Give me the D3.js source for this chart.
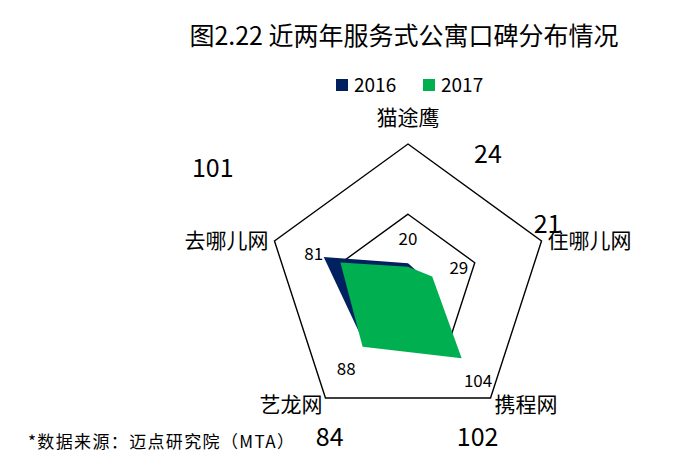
<!DOCTYPE html>
<html>
<head>
<meta charset="UTF-8" />
<title>服务式公寓口碑分布</title>
<script src="https://d3js.org/d3.v7.min.js"></script>
<style>
  body { margin: 0; background: #fff; }
  text { font-family: "Noto Sans CJK SC", "Noto Sans", sans-serif; fill: #000; }
</style>
</head>
<body>
<svg id="chart" width="693" height="476"></svg>
<script>
// data
var categories = ['猫途鹰', '住哪儿网', '携程网', '艺龙网', '去哪儿网'];
var years = ['2016', '2017'];
var values2016 = [24, 21, 102, 84, 101];
var values2017 = [20, 29, 104, 88, 81];
var gridLevels = [80, 160];

var colors = { '2016': '#002060', '2017': '#00b050' };

var svg = d3.select('#chart');
var cx = 408, cy = 284.4, R = 140.4;

var r = d3.scaleLinear().domain([0, 160]).range([0, R]);
var angle = d3.scaleLinear().domain([0, categories.length]).range([0, 2 * Math.PI]);

function pt(i, rad) {
  var a = angle(i);
  return [cx + rad * Math.sin(a), cy - rad * Math.cos(a)];
}

var g = svg.append('g').attr('transform', 'translate(' + cx + ',' + cy + ')');

var radial = d3.lineRadial()
  .angle(function (d, i) { return angle(i); })
  .radius(function (d) { return r(d); })
  .curve(d3.curveLinearClosed);

// grid pentagons
g.selectAll('.grid')
  .data(gridLevels)
  .enter()
  .append('path')
  .attr('d', function (lv) { return radial(categories.map(function () { return lv; })); })
  .attr('fill', 'none')
  .attr('stroke', '#000')
  .attr('stroke-width', 1.4);

// series areas
g.append('path').attr('d', radial(values2016)).attr('fill', colors['2016']);
g.append('path').attr('d', radial(values2017)).attr('fill', colors['2017']);

// 2017 labels, just outside each vertex
svg.selectAll('.lab17')
  .data(values2017)
  .enter()
  .append('text')
  .attr('x', function (d, i) { return pt(i, r(d) + 28)[0]; })
  .attr('y', function (d, i) { return pt(i, r(d) + 28)[1]; })
  .attr('text-anchor', 'middle')
  .attr('dy', '0.35em')
  .style('font-size', '17px')
  .text(function (d) { return d; });

// 2016 labels sit far out, nudged by hand in the original
var nudge2016 = [[80, -109], [122, -54], [17, 80], [-35, 93], [-111, -89]];
svg.selectAll('.lab16')
  .data(values2016)
  .enter()
  .append('text')
  .attr('x', function (d, i) { return pt(i, r(d))[0] + nudge2016[i][0]; })
  .attr('y', function (d, i) { return pt(i, r(d))[1] + nudge2016[i][1]; })
  .attr('text-anchor', 'middle')
  .attr('dy', '0.35em')
  .style('font-size', '25px')
  .text(function (d) { return d; });

// category labels
var catPos = [
  { dx: 0, dy: -26, anchor: 'middle' },
  { dx: 6, dy: 0, anchor: 'start' },
  { dx: 4, dy: 7, anchor: 'start' },
  { dx: -3, dy: 7, anchor: 'end' },
  { dx: -6, dy: 0, anchor: 'end' }
];
svg.selectAll('.cat')
  .data(categories)
  .enter()
  .append('text')
  .attr('x', function (d, i) { return pt(i, R)[0] + catPos[i].dx; })
  .attr('y', function (d, i) { return pt(i, R)[1] + catPos[i].dy; })
  .attr('text-anchor', function (d, i) { return catPos[i].anchor; })
  .attr('dy', '0.35em')
  .style('font-size', '21px')
  .text(function (d) { return d; });

// title
svg.append('text')
  .attr('x', 404).attr('y', 45)
  .attr('text-anchor', 'middle')
  .style('font-size', '25px')
  .text('图2.22 近两年服务式公寓口碑分布情况');

// legend
var legendX = d3.scaleOrdinal().domain(years).range([336, 423]);
var leg = svg.selectAll('.leg')
  .data(years)
  .enter()
  .append('g')
  .attr('transform', function (d) { return 'translate(' + legendX(d) + ',79)'; });
leg.append('rect')
  .attr('width', 12).attr('height', 12)
  .attr('fill', function (d) { return colors[d]; });
leg.append('text')
  .attr('x', 18).attr('y', 6)
  .attr('dy', '0.35em')
  .style('font-size', '19px')
  .text(function (d) { return d; });

// source note
svg.append('text')
  .attr('x', 28).attr('y', 442)
  .attr('dy', '0.35em')
  .attr('textLength', 266)
  .attr('lengthAdjust', 'spacing')
  .style('font-size', '17px')
  .text('*数据来源：迈点研究院（MTA）');
</script>
</body>
</html>
